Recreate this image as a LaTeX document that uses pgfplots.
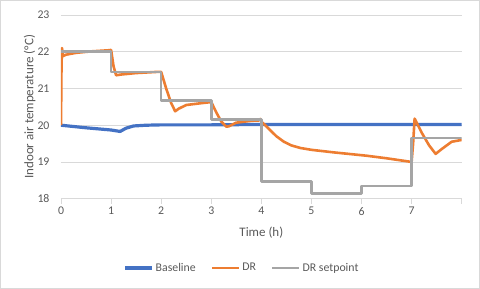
\documentclass[border=0pt]{standalone}
\usepackage{pgfplots}
\pgfplotsset{compat=1.18}
\usepackage{fontspec}
\setmainfont{Carlito}
\definecolor{cblue}{HTML}{4472C4}
\definecolor{corange}{HTML}{ED7D31}
\definecolor{cgray}{HTML}{A5A5A5}
\definecolor{ctext}{HTML}{595959}
\definecolor{cgrid}{HTML}{D9D9D9}
\begin{document}
\begin{tikzpicture}[x=1pt,y=1pt]
\useasboundingbox (0,0) rectangle (480,289);
\draw[cgrid,line width=0.75pt] (0.5,0.5) rectangle (479.5,288.5);
\begin{axis}[
 at={(61pt,90.3pt)}, anchor=south west,
 scale only axis, width=400.7pt, height=183.7pt,
 xmin=0, xmax=8, ymin=18, ymax=23,
 xtick={0,...,8}, xticklabels={0,1,2,3,4,5,6,7,{}},
 ytick={18,...,23},
 ymajorgrids, grid style={cgrid,line width=0.75pt},
 axis line style={draw=none},
 tick align=outside, xtick pos=left,
 x tick style={cgrid,line width=0.75pt}, major tick length=5pt,
 ytick style={draw=none},
 tick label style={font=\fontsize{11.8}{14}\selectfont, text=ctext},
 yticklabel style={xshift=-3pt},
 /pgf/number format/assume math mode=true,
 xlabel={Time (h)}, ylabel={Indoor air temperature (°C)},
 label style={font=\fontsize{13}{15}\selectfont, text=ctext},
 xlabel style={at={(axis description cs:0.5,-0.187)}, anchor=center},
 ylabel style={at={(axis description cs:-0.078,0.5)}, anchor=center},
 legend columns=3,
 legend style={at={(axis description cs:0.4517,-0.377)}, anchor=center, draw=none, fill=none,
   font=\fontsize{11.8}{14}\selectfont, text=ctext,
   /tikz/every even column/.append style={column sep=13pt}},
 legend image code/.code={\draw[#1] (0pt,0pt) -- (27pt,0pt);},
 every axis plot/.append style={no marks, line join=round},
]
\addplot[cblue, line width=3.2pt] coordinates {
(0,20.0) (0.5,19.93) (1.0,19.87) (1.18,19.83) (1.3,19.92) (1.45,19.98) (1.7,20.0)
(2,20.01) (3,20.01) (4,20.02) (5,20.02) (6,20.02) (7,20.02) (8,20.02)};
\addlegendentry{Baseline}
\addplot[corange, line width=2.6pt] coordinates {
(0,20.0) (0.01,21.6) (0.02,22.1) (0.04,21.88) (0.1,21.92) (0.3,21.97) (0.6,22.01) (0.95,22.04) (1.0,22.05)
(1.05,21.6) (1.1,21.36) (1.2,21.38) (1.5,21.42) (1.9,21.45) (2.0,21.45)
(2.1,21.0) (2.2,20.6) (2.28,20.38) (2.35,20.45) (2.5,20.55) (2.8,20.6) (3.0,20.63)
(3.1,20.35) (3.2,20.1) (3.3,19.96) (3.35,19.97) (3.5,20.07) (3.8,20.12) (3.95,20.13) (3.98,20.17) (4.0,20.1)
(4.1,19.97) (4.18,19.86) (4.3,19.7) (4.45,19.55) (4.6,19.45) (4.78,19.38) (5.0,19.33) (5.45,19.26)
(6.1,19.17) (6.5,19.1) (6.9,19.02) (7.0,19.0)
(7.03,19.5) (7.06,20.18) (7.2,19.8) (7.35,19.45) (7.48,19.22) (7.6,19.35) (7.8,19.55) (8.0,19.6)};
\addlegendentry{DR}
\addplot[cgray, line width=2.6pt, const plot mark left] coordinates {
(0,22.0) (1,21.45) (2,20.67) (3,20.16) (4,18.47) (5,18.14) (6,18.35) (7,19.65) (8,19.65)};
\addlegendentry{DR setpoint}
\end{axis}
\end{tikzpicture}
\end{document}
